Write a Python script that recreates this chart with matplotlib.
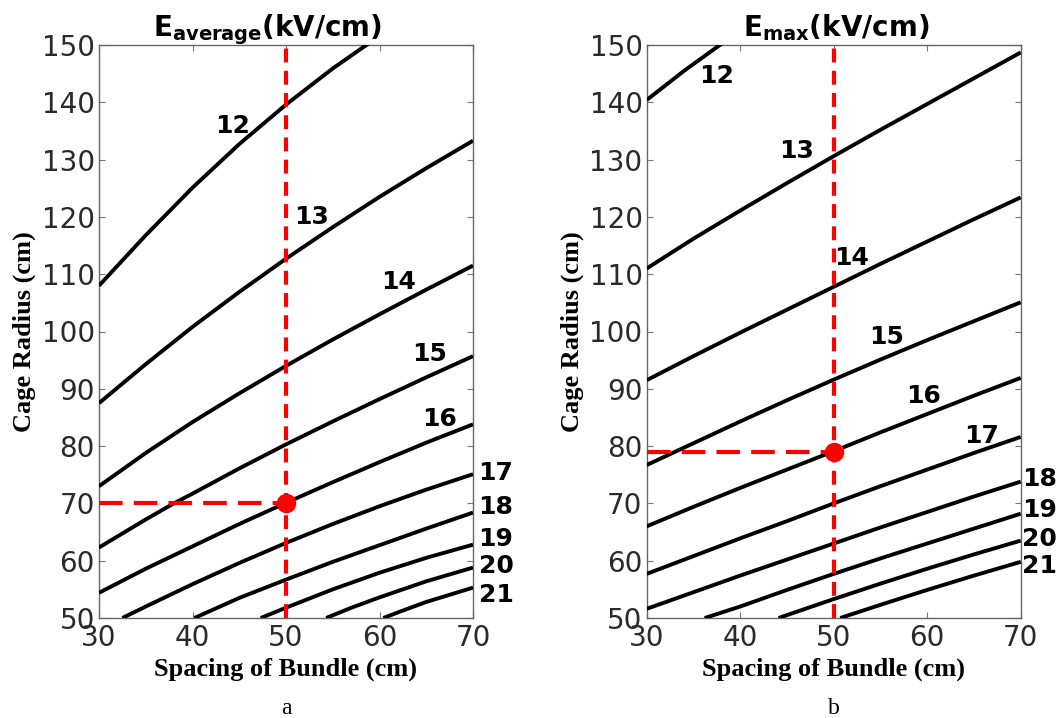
import matplotlib
matplotlib.use("Agg")
import matplotlib.pyplot as plt

# ---- contour levels (kV/cm) ----
levels = [12, 13, 14, 15, 16, 17, 18, 19, 20, 21]

# ---- panel a: average field, spacing (cm) vs cage radius (cm) ----
avg_x = [
    [30, 35, 40, 45, 50, 55, 60],
    [30, 35, 40, 45, 50, 55, 60, 65, 70],
    [30, 35, 40, 45, 50, 55, 60, 65, 70],
    [30, 35, 38, 40, 45, 50, 55, 60, 65, 70],
    [30, 35, 40, 45, 50, 55, 60, 65, 70],
    [32.5, 35, 40, 45, 50, 55, 60, 65, 70],
    [40.2, 45, 50, 55, 60, 65, 70],
    [47.3, 50, 55, 60, 65, 70],
    [54.3, 57, 60, 65, 70],
    [60.4, 62.5, 65, 70],
]
avg_y = [
    [108.0, 116.8, 125.1, 132.7, 139.6, 145.9, 151.6],
    [87.5, 94.3, 100.8, 106.9, 112.7, 118.2, 123.5, 128.5, 133.3],
    [73.0, 78.8, 84.2, 89.2, 94.0, 98.6, 103.0, 107.3, 111.5],
    [62.3, 67.2, 70.0, 71.7, 76.1, 80.3, 84.3, 88.2, 92.0, 95.7],
    [54.4, 58.6, 62.5, 66.4, 70.1, 73.7, 77.2, 80.6, 83.8],
    [50.0, 52.0, 55.9, 59.6, 63.1, 66.4, 69.5, 72.4, 75.1],
    [50.0, 53.5, 56.7, 59.8, 62.7, 65.6, 68.4],
    [50.0, 51.8, 55.0, 57.9, 60.5, 62.8],
    [50.0, 51.8, 53.6, 56.4, 58.8],
    [50.0, 51.3, 52.8, 55.3],
]
avg_label_x = [44.3, 52.7, 62.0, 65.4, 66.4, 70.6, 70.6, 70.6, 70.6, 70.6]
avg_label_y = [135.9, 119.9, 108.6, 96.0, 84.8, 75.3, 69.3, 63.7, 59.0, 54.0]
avg_point = (50, 70)

# ---- panel b: maximum field ----
max_x = [
    [30, 34, 38, 40],
    [30, 35, 40, 45, 50, 55, 60, 65, 70],
    [30, 35, 40, 45, 50, 55, 60, 65, 70],
    [30, 35, 40, 45, 50, 55, 60, 65, 70],
    [30, 35, 40, 45, 50, 55, 60, 65, 70],
    [30, 35, 40, 45, 50, 55, 60, 65, 70],
    [30, 35, 40, 45, 50, 55, 60, 65, 70],
    [36.2, 40, 45, 50, 55, 60, 65, 70],
    [44.1, 50, 55, 60, 65, 70],
    [50.7, 55, 60, 65, 70],
]
max_y = [
    [140.4, 145.5, 150.2, 152.5],
    [111.0, 116.2, 121.1, 125.9, 130.6, 135.2, 139.7, 144.2, 148.7],
    [91.5, 95.7, 99.8, 103.8, 107.8, 111.8, 115.7, 119.6, 123.4],
    [76.7, 80.5, 84.3, 88.0, 91.6, 95.1, 98.5, 101.8, 105.1],
    [66.0, 69.4, 72.7, 75.9, 79.1, 82.4, 85.6, 88.8, 91.9],
    [57.7, 60.8, 63.9, 66.9, 70.0, 73.0, 75.9, 78.8, 81.6],
    [51.6, 54.5, 57.4, 60.2, 63.0, 65.8, 68.5, 71.2, 73.8],
    [50.0, 52.0, 54.9, 57.7, 60.4, 63.0, 65.6, 68.2],
    [50.0, 53.3, 56.0, 58.6, 61.1, 63.5],
    [50.0, 52.3, 54.9, 57.4, 59.8],
]
max_label_x = [37.5, 46.0, 51.9, 55.7, 59.6, 65.8, 70.15, 70.15, 70.15, 70.15]
max_label_y = [144.6, 131.5, 112.9, 99.1, 88.7, 81.7, 74.2, 68.8, 63.7, 59.0]
max_point = (50, 79)

x_ticks = [30, 40, 50, 60, 70]
y_ticks = [50, 60, 70, 80, 90, 100, 110, 120, 130, 140, 150]

plt.rcParams["lines.scale_dashes"] = False
plt.rcParams["mathtext.fontset"] = "dejavusans"

W, H = 1063, 718
fig = plt.figure(figsize=(W / 100, H / 100), dpi=100)
fig.patch.set_facecolor("white")

RED = "#ff0000"
serif = "Liberation Serif"


def panel(left_px, title, title_x, xs, ys, lab_x, lab_y, point, caption):
    ax = fig.add_axes([left_px / W, (H - 618) / H, 374 / W, 573 / H])
    for lx, ly in zip(xs, ys):
        ax.plot(lx, ly, color="black", lw=2.8, solid_capstyle="butt",
                solid_joinstyle="round", zorder=3)
    for lev, tx, ty in zip(levels, lab_x, lab_y):
        ha = "left" if tx > 70 else "center"
        ax.text(tx, ty, str(lev), fontsize=18, fontweight="bold", color="black",
                ha=ha, va="center", clip_on=False, zorder=5)
    px, py = point
    ax.plot([px, px], [50, 150], color=RED, lw=3.0, dashes=(10, 6), zorder=4)
    ax.plot([30, px], [py, py], color=RED, lw=3.0, dashes=(17, 8), zorder=4)
    ax.plot([px], [py], "o", color=RED, ms=13, zorder=6)

    ax.set_xlim(30, 70)
    ax.set_ylim(50, 150)
    ax.set_xticks(x_ticks)
    ax.set_yticks(y_ticks)
    ax.tick_params(direction="in", length=4, width=0.8, color="#777777",
                   top=True, right=True, labelsize=20, labelcolor="#2a2a2a")
    ax.tick_params(axis="x", pad=4)
    ax.tick_params(axis="y", pad=3)
    for lbl in ax.get_xticklabels() + ax.get_yticklabels():
        lbl.set_fontfamily("DejaVu Sans")
    for s in ax.spines.values():
        s.set_color("#666666")
        s.set_linewidth(1.0)

    ax.set_title(title, fontsize=20, pad=6, x=title_x)
    ax.set_xlabel("Spacing of Bundle (cm)", family=serif, fontweight="bold",
                  fontsize=19, labelpad=4)
    ax.set_ylabel("Cage Radius (cm)", family=serif, fontweight="bold",
                  fontsize=19, labelpad=4)
    ax.text(0.5, -0.158, caption, transform=ax.transAxes, family=serif,
            fontsize=17, ha="center", va="center")
    return ax


panel(99, r"$\mathbf{E}_{\mathbf{average}}\mathbf{(kV/cm)}$", 0.45,
      avg_x, avg_y, avg_label_x, avg_label_y, avg_point, "a")
panel(646.7, r"$\mathbf{E}_{\mathbf{max}}\mathbf{(kV/cm)}$", 0.507,
      max_x, max_y, max_label_x, max_label_y, max_point, "b")

fig.savefig("out.png", dpi=100)
